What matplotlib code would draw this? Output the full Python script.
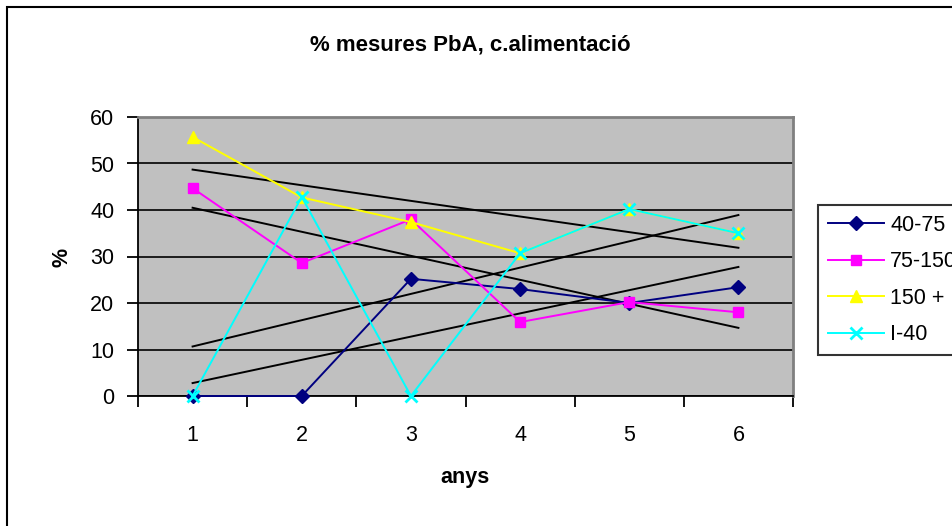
import numpy as np
import matplotlib.pyplot as plt
from matplotlib.patches import Rectangle

plt.rcParams['font.family'] = ['Liberation Sans', 'DejaVu Sans']

# years on the x axis
anys = [1, 2, 3, 4, 5, 6]

# % of measurements per group
s_40_75 = [0, 0, 25.2, 23.0, 20.0, 23.4]
s_75_150 = [44.7, 28.6, 38.0, 15.9, 20.2, 18.0]
s_150 = [55.7, 42.7, 37.4, 30.7, 40.2, 35.0]
s_l40 = [0, 42.8, 0, 30.7, 40.2, 35.0]

labels = ['40-75', '75-150', '150 +', 'I-40']
colors = ['#000080', '#FF00FF', '#FFFF00', '#00FFFF']
markers = ['D', 's', '^', 'x']
msizes = [7.5, 7.5, 9, 9]

fig = plt.figure(figsize=(9.52, 5.26), dpi=100)
ax = fig.add_axes([138/952, 1-396/526, (793-138)/952, (396-117)/526])
ax.set_facecolor('#C0C0C0')

series = [s_40_75, s_75_150, s_150, s_l40]
x = np.array(anys)
for ys, lab, c, m, ms in zip(series, labels, colors, markers, msizes):
    mew = 2 if m == 'x' else 1
    ax.plot(x, ys, color=c, marker=m, markersize=ms, markeredgewidth=mew,
            markeredgecolor=c, lw=1.4, label=lab, zorder=3, clip_on=False)
    # linear trend line for each group
    k, b = np.polyfit(x, ys, 1)
    ax.plot(x[[0, -1]], k*x[[0, -1]] + b, color='black', lw=1.4, zorder=2)

ax.set_xlim(0.5, 6.5)
ax.set_ylim(0, 60)
ax.set_yticks(range(0, 61, 10))
ax.set_xticks(anys)
ax.set_xticks(np.arange(0.5, 6.6, 1), minor=True)
ax.grid(axis='y', color='black', lw=1.2)
ax.set_axisbelow(True)
ax.tick_params(axis='x', which='major', length=0, pad=21, labelsize=15.5)
ax.tick_params(axis='x', which='minor', length=8, width=1.3, direction='out')
ax.tick_params(axis='y', length=8, width=1.3, direction='out', pad=9, labelsize=15.5)

for side in ['top', 'right']:
    ax.spines[side].set_color('#808080')
    ax.spines[side].set_linewidth(2)
for side in ['left', 'bottom']:
    ax.spines[side].set_color('black')
    ax.spines[side].set_linewidth(1.3)

fig.text(470/952, 1-45/526, '% mesures PbA, c.alimentació', ha='center', va='center',
         fontsize=16, fontweight='bold')
fig.text(465/952, 1-477/526, 'anys', ha='center', va='center', fontsize=15.5, fontweight='bold')
fig.text(62/952, 1-257/526, '%', ha='center', va='center', rotation=90,
         fontsize=15.5, fontweight='bold')

leg = fig.legend(loc='upper left', bbox_to_anchor=(818/952, 1-205/526), borderaxespad=0,
                 fontsize=15.5, frameon=True, fancybox=False, handlelength=2.6,
                 handletextpad=0.3, labelspacing=0.72, borderpad=0.45)
leg.get_frame().set_edgecolor('black')
leg.get_frame().set_linewidth(1.5)

# outer chart border
fig.patches.append(Rectangle((7/952, -0.1), 1.2, 1.1 - 7/526, transform=fig.transFigure,
                             fill=False, edgecolor='black', lw=1.5))

fig.savefig('out.png', dpi=100)
